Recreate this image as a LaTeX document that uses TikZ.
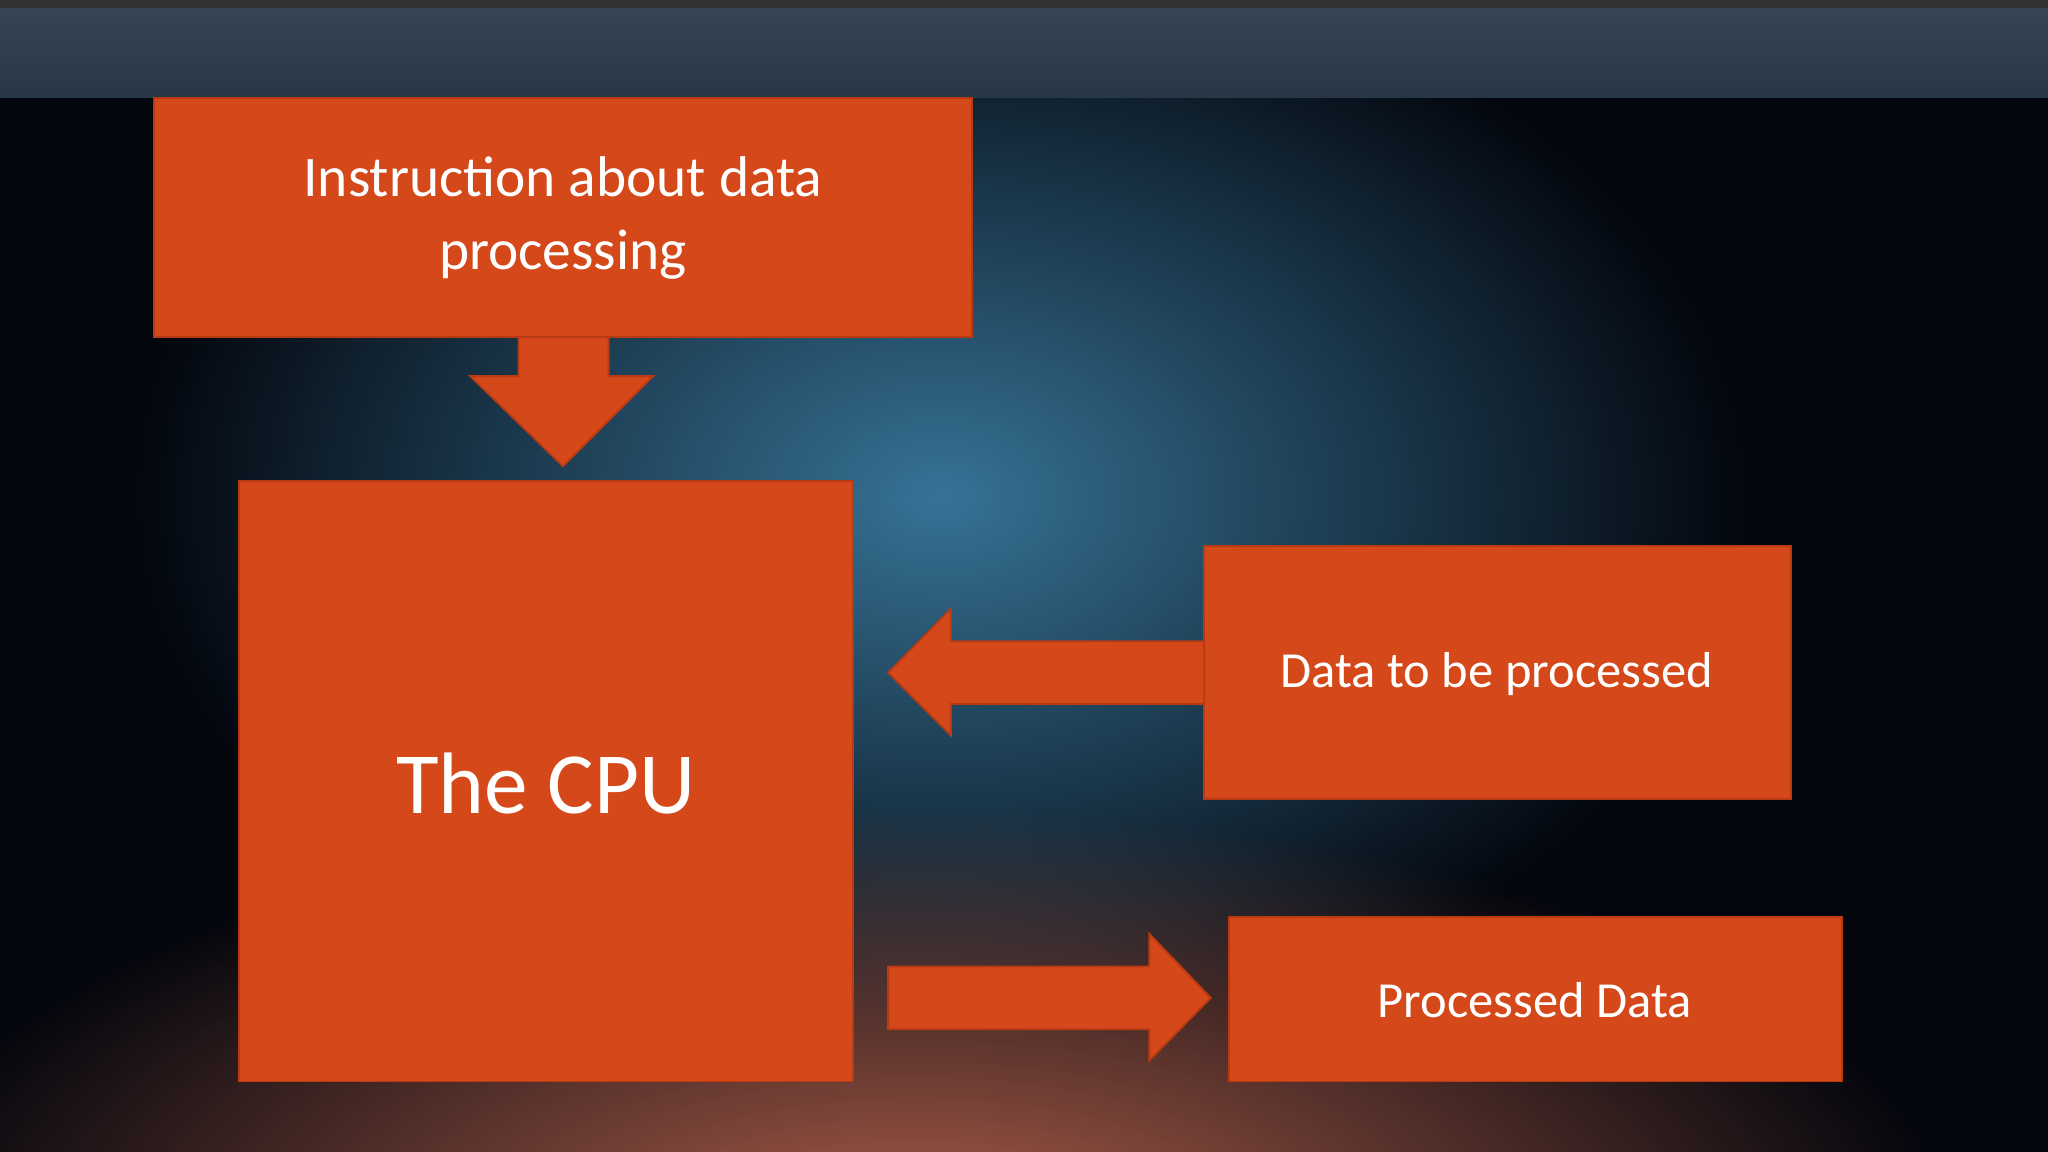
\documentclass[tikz,border=0pt]{standalone}
\usepackage{fontspec}
\usetikzlibrary{fadings}
\setmainfont{Carlito}
\tikzfading[name=glow, inner color=transparent!0, outer color=transparent!100]
\begin{document}
\begin{tikzpicture}[x=0.01cm,y=-0.01cm,
  box/.style={fill=boxc,draw=boxd,line width=0.4pt},
  lbl/.style={text=white,align=center}]
\definecolor{boxc}{HTML}{D4481A}
\definecolor{boxd}{HTML}{B83A12}
\definecolor{bg}{HTML}{03060D}
\useasboundingbox (0,0) rectangle (1568,882);
\fill[bg] (0,0) rectangle (1568,882);
\begin{scope}
\clip (0,0) rectangle (1568,882);
\fill[color={rgb,255:red,55;green,115;blue,150},path fading=glow] (720,380) ellipse (620 and 420);
\fill[color={rgb,255:red,175;green,95;blue,75},path fading=glow] (700,950) ellipse (800 and 330);
\end{scope}
\fill[top color={rgb,255:red,55;green,70;blue,85},bottom color={rgb,255:red,40;green,55;blue,70}] (0,0) rectangle (1568,75);
\fill[black!80] (0,0) rectangle (1568,6);
% nodes
\path[box] (118,75) rectangle (744,258);
\node[lbl,font=\fontsize{12.5}{16}\selectfont] (instr) at (431,167) {Instruction about data\\processing};
\path[box] (183,368) rectangle (653,828);
\node[lbl,font=\fontsize{19}{24}\selectfont] (cpu) at (418,600) {The CPU};
\path[box] (922,418) rectangle (1371,612);
\node[lbl,font=\fontsize{11}{15}\selectfont] (data) at (1146,516) {Data to be processed};
\path[box] (941,702) rectangle (1410,828);
\node[lbl,font=\fontsize{11}{15}\selectfont] (proc) at (1175,766) {Processed Data};
% arrows
\path[box] (397,258) -- (466,258) -- (466,288) -- (500,288) -- (431,357) -- (360,288) -- (397,288) -- cycle;
\path[box] (922,491) -- (728,491) -- (728,466) -- (680,515) -- (728,563) -- (728,539) -- (922,539) -- cycle;
\path[box] (680,740) -- (880,740) -- (880,715) -- (927,764) -- (880,812) -- (880,788) -- (680,788) -- cycle;
\end{tikzpicture}
\end{document}
